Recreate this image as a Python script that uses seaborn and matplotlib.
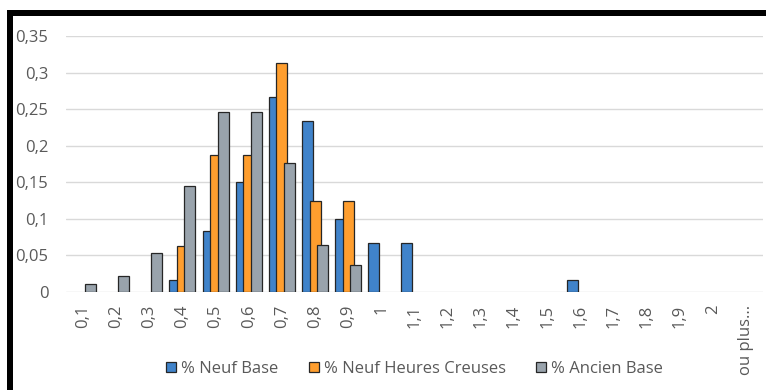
import matplotlib
matplotlib.use("Agg")
import matplotlib.pyplot as plt
from matplotlib.patches import Rectangle
import seaborn as sns
import pandas as pd

# Consumption classes (upper bound of each class)
categories = ["0,1", "0,2", "0,3", "0,4", "0,5", "0,6", "0,7", "0,8", "0,9", "1",
              "1,1", "1,2", "1,3", "1,4", "1,5", "1,6", "1,7", "1,8", "1,9", "2",
              "ou plus..."]

series_names = ["% Neuf Base", "% Neuf Heures Creuses", "% Ancien Base"]

neuf_base = [0, 0, 0, 0.0167, 0.0833, 0.15, 0.2667, 0.2333, 0.1, 0.0667,
             0.0667, 0, 0, 0, 0, 0.0167, 0, 0, 0, 0, 0]
neuf_hc = [0, 0, 0, 0.0625, 0.1875, 0.1875, 0.3125, 0.125, 0.125, 0,
           0, 0, 0, 0, 0, 0, 0, 0, 0, 0, 0]
ancien_base = [0.0107, 0.0214, 0.0535, 0.1444, 0.246, 0.246, 0.1765, 0.0642, 0.0374, 0,
               0, 0, 0, 0, 0, 0, 0, 0, 0, 0, 0]

y_ticks = [0, 0.05, 0.1, 0.15, 0.2, 0.25, 0.3, 0.35]
y_tick_labels = ["0", "0,05", "0,1", "0,15", "0,2", "0,25", "0,3", "0,35"]

colors = ["#4083CA", "#FF9E2E", "#99A3AC"]

rows = []
for name, vals in zip(series_names, [neuf_base, neuf_hc, ancien_base]):
    for cat, v in zip(categories, vals):
        if v > 0:
            rows.append({"classe": cat, "serie": name, "part": v})
df = pd.DataFrame(rows)

sns.set_theme(style="white")
plt.rcParams["font.family"] = ["Open Sans", "DejaVu Sans"]

W, H = 766, 390
fig = plt.figure(figsize=(W / 100, H / 100), dpi=100)
ax = fig.add_axes([66.4 / W, 1 - 292 / H, (762.6 - 66.4) / W, (292 - 36) / H])

sns.barplot(data=df, x="classe", y="part", hue="serie", order=categories,
            hue_order=series_names, palette=colors, dodge=True, width=0.68,
            edgecolor="#262626", linewidth=0.9, saturation=1, ax=ax)

# Widen the bars so neighbouring series overlap slightly
bar_w = 0.332
for cont in ax.containers:
    for bar in cont:
        cx = bar.get_x() + bar.get_width() / 2
        bar.set_x(cx - bar_w / 2)
        bar.set_width(bar_w)

ax.set_xlim(-0.5, len(categories) - 0.5)
ax.set_ylim(0, 0.35)
ax.set_yticks(y_ticks)
ax.set_yticklabels(y_tick_labels)
ax.set_xlabel("")
ax.set_ylabel("")
ax.grid(axis="y", color="#D9D9D9", linewidth=1.0)
ax.set_axisbelow(True)
for s in ax.spines.values():
    s.set_visible(False)
ax.tick_params(axis="both", length=0, colors="#595959", labelsize=12)
ax.tick_params(axis="y", pad=13)
ax.tick_params(axis="x", pad=9)
for lbl in ax.get_xticklabels():
    lbl.set_rotation(90)

handles, labels = ax.get_legend_handles_labels()
ax.legend(handles, labels, loc="center", bbox_to_anchor=(0.5, -0.30), ncol=3,
          frameon=False, fontsize=12, labelcolor="#595959",
          handlelength=0.6, handleheight=0.6, handletextpad=0.3,
          columnspacing=1.8)

# Dark frame along the top and left edges
fig.add_artist(Rectangle((7 / W, 0), 6 / W, 1 - 10 / H, transform=fig.transFigure,
                         color="black", lw=0))
fig.add_artist(Rectangle((7 / W, 1 - 16 / H), 1 - 7 / W, 6 / H, transform=fig.transFigure,
                         color="black", lw=0))

fig.savefig("out.png", dpi=100)
